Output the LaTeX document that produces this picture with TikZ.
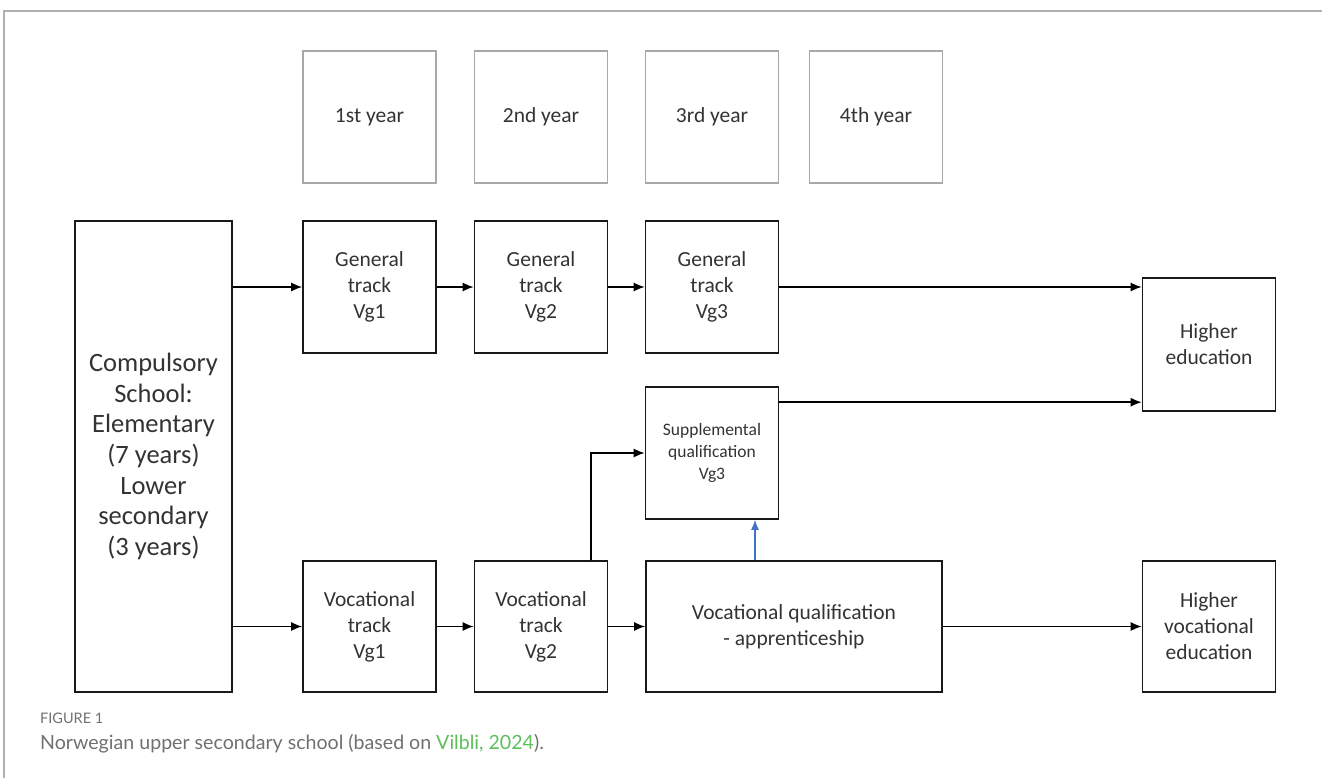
\documentclass[tikz,border=0pt]{standalone}
\usepackage{fontspec}
\setmainfont{Carlito}
\newfontfamily\capfont{Lato}
\usetikzlibrary{arrows.meta}
\definecolor{framegray}{HTML}{B0B0B0}
\definecolor{yeargray}{HTML}{A8A8A8}
\definecolor{txt}{HTML}{333333}
\definecolor{capgray}{HTML}{707070}
\definecolor{capgreen}{HTML}{5CBF5C}
\definecolor{arrblue}{HTML}{4472C4}
\tikzset{
  box/.style={draw=black!90, line width=1.6pt, align=center, inner sep=0pt, text=txt,
    font=\fontsize{21.5}{26}\selectfont},
  yearbox/.style={draw=yeargray, line width=1.5pt, align=center, inner sep=0pt, text=txt,
    minimum width=133pt, minimum height=132pt, font=\fontsize{21.5}{26}\selectfont},
  arr/.style={draw=black, line width=1.5pt, -{Latex[length=11pt,width=9pt]}},
  arrb/.style={draw=arrblue, line width=1.3pt, -{Latex[length=10pt,width=8pt]}},
}
\begin{document}
\begin{tikzpicture}[x=1pt,y=-1pt]
\useasboundingbox (0,0) rectangle (1322,778);
\draw[framegray, line width=2pt] (4,778) -- (4,11) -- (1322,11);

% year boxes
\node[yearbox] (y1) at (369.5,117) {1st year};
\node[yearbox] (y2) at (541,117) {2nd year};
\node[yearbox] (y3) at (712,117) {3rd year};
\node[yearbox] (y4) at (876,117) {4th year};

% main boxes
\node[box, minimum width=157pt, minimum height=471pt, font=\fontsize{26.5}{30.7}\selectfont] (comp) at (153.5,456.5)
  {Compulsory\\School:\\Elementary\\(7 years)\\Lower\\secondary\\(3 years)};
\node[box, minimum width=133pt, minimum height=132pt] (gv1) at (369.5,287) {General\\track\\Vg1};
\node[box, minimum width=133pt, minimum height=132pt] (gv2) at (541,287) {General\\track\\Vg2};
\node[box, minimum width=133pt, minimum height=132pt] (gv3) at (712,287) {General\\track\\Vg3};
\node[box, minimum width=133pt, minimum height=133pt] (he) at (1209,344.5) {Higher\\education};
\node[box, minimum width=133pt, minimum height=132pt, font=\fontsize{17.5}{22}\selectfont] (supp) at (712,453)
  {Supplemental\\qualification\\Vg3};
\node[box, minimum width=133pt, minimum height=131pt] (vv1) at (369.5,626.5) {Vocational\\track\\Vg1};
\node[box, minimum width=133pt, minimum height=131pt] (vv2) at (541,626.5) {Vocational\\track\\Vg2};
\node[box, minimum width=296pt, minimum height=131pt] (vq) at (794,626.5) {Vocational qualification\\- apprenticeship};
\node[box, minimum width=133pt, minimum height=131pt] (hv) at (1209,626.5) {Higher\\vocational\\education};

% connectors
\draw[arr] (comp.east |- gv1.west) -- (gv1.west);
\draw[arr] (comp.east |- vv1.west) -- (vv1.west);
\draw[arr] (gv1) -- (gv2);
\draw[arr] (gv2) -- (gv3);
\draw[arr] (gv3.east) -- (gv3.east -| he.west);
\coordinate (s1) at ([yshift=-16pt]supp.north east);
\draw[arr] (s1) -- (s1 -| he.west);
\draw[arr] (vv1) -- (vv2);
\draw[arr] (vv2) -- (vv2 -| vq.west);
\draw[arr] (vq.east) -- (hv.west);
\draw[arr] ([xshift=50pt]vv2.north) |- (supp.west);
\coordinate (b1) at ([xshift=43pt]supp.south);
\draw[arrb] (b1 |- vq.north) -- (b1);

% caption
\node[anchor=base west, inner sep=0pt, text=capgray, font=\capfont\fontsize{14.5}{17}\selectfont] (cap1) at (40,723) {FIGURE 1};
\node[anchor=base west, inner sep=0pt, text=capgray, font=\capfont\fontsize{19.6}{22}\selectfont] (cap2) at (40,749)
  {Norwegian upper secondary school (based on \textcolor{capgreen}{Vilbli, 2024}).};
\end{tikzpicture}
\end{document}
